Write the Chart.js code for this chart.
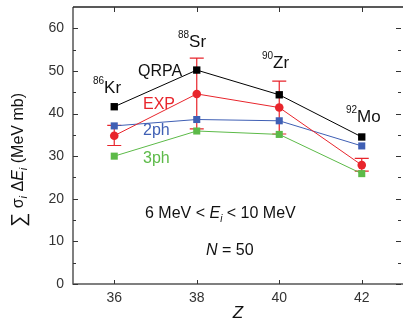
<!DOCTYPE html>
<html>
<head>
<meta charset="utf-8">
<script src="https://cdn.jsdelivr.net/npm/chart.js@4/dist/chart.umd.min.js"></script>
<style>
html,body{margin:0;padding:0;background:#fff;}
#wrap{width:403px;height:320px;}
</style>
</head>
<body>
<div id="wrap"><canvas id="c" width="403" height="320"></canvas></div>
<script>
// ---- data ----
const zValues = [36, 38, 40, 42];
const massNumbers = ['86', '88', '90', '92'];
const elementSymbols = ['Kr', 'Sr', 'Zr', 'Mo'];
const qrpaValues = [41.6, 50.2, 44.4, 34.5];
const expValues = [34.8, 44.6, 41.4, 27.9];
const expErrLow = [32.5, 36.4, 35.2, 26.5];
const expErrHigh = [37.2, 53.0, 47.6, 29.5];
const twoPhValues = [37.1, 38.6, 38.3, 32.4];
const threePhValues = [30.0, 35.9, 35.1, 25.9];
const xTickLabels = ['36', '38', '40', '42'];
const yTickLabels = ['0', '10', '20', '30', '40', '50', '60'];
const seriesNames = ['QRPA', 'EXP', '2ph', '3ph'];

const FONT = '"Liberation Sans", Arial, Helvetica, sans-serif';
const colBlack = '#000000', colRed = '#e8252c', colBlue = '#3f5fb4', colGreen = '#5cba48';

function pts(vals) { return zValues.map((z, i) => ({ x: z, y: vals[i] })); }

const framePlugin = {
  id: 'frame',
  beforeDatasetsDraw(chart) {
    const ctx = chart.ctx, xs = chart.scales.x, ys = chart.scales.y;
    ctx.save();
    ctx.strokeStyle = colRed; ctx.lineWidth = 1.2;
    zValues.forEach((z, i) => {
      const px = xs.getPixelForValue(z);
      const lo = ys.getPixelForValue(expErrLow[i]), hi = ys.getPixelForValue(expErrHigh[i]);
      ctx.beginPath();
      ctx.moveTo(px, lo); ctx.lineTo(px, hi);
      ctx.moveTo(px - 7, lo); ctx.lineTo(px + 7, lo);
      ctx.moveTo(px - 7, hi); ctx.lineTo(px + 7, hi);
      ctx.stroke();
    });
    ctx.restore();
  },
  afterDraw(chart) {
    const ctx = chart.ctx, ca = chart.chartArea, xs = chart.scales.x, ys = chart.scales.y;
    ctx.save();
    ctx.lineWidth = 1.5;
    ctx.strokeStyle = '#555';
    ctx.beginPath();
    ctx.moveTo(ca.left, ca.top); ctx.lineTo(ca.left, ca.bottom); ctx.lineTo(ca.right, ca.bottom);
    ctx.stroke();
    ctx.strokeStyle = '#222';
    ctx.beginPath();
    ctx.moveTo(ca.left, ca.top); ctx.lineTo(ca.right, ca.top);
    ctx.stroke();
    ctx.lineWidth = 1;
    ctx.strokeStyle = '#333';
    ctx.beginPath();
    yTickLabels.forEach(t => {
      const py = Math.round(ys.getPixelForValue(+t)) + 0.5;
      ctx.moveTo(ca.left, py); ctx.lineTo(ca.left + 5, py);
      ctx.moveTo(ca.right - 2, py); ctx.lineTo(ca.right - 7, py);
    });
    for (let v = 5; v < ys.max; v += 10) {
      const py = Math.round(ys.getPixelForValue(v)) + 0.5;
      ctx.moveTo(ca.left, py); ctx.lineTo(ca.left + 3, py);
      ctx.moveTo(ca.right - 2, py); ctx.lineTo(ca.right - 5, py);
    }
    xTickLabels.forEach(t => {
      const px = Math.round(xs.getPixelForValue(+t)) + 0.5;
      ctx.moveTo(px, ca.bottom); ctx.lineTo(px, ca.bottom - 4);
      ctx.moveTo(px, ca.top); ctx.lineTo(px, ca.top + 5);
    });
    ctx.stroke();

    ctx.textBaseline = 'alphabetic';
    const nucPos = [[93, 93], [178, 47], [262, 68], [346, 122]];
    massNumbers.forEach((m, i) => {
      const [x0, y0] = nucPos[i];
      ctx.fillStyle = '#111';
      ctx.font = '10px ' + FONT;
      ctx.textAlign = 'left';
      ctx.fillText(m, x0, y0 - 9);
      const w = ctx.measureText(m).width;
      ctx.font = '17px ' + FONT;
      ctx.fillText(elementSymbols[i], x0 + w, y0);
    });
    const serCols = ['#111', colRed, colBlue, colGreen];
    const serPos = [[138, 76], [143, 109], [143, 135], [143, 163]];
    ctx.font = '16px ' + FONT;
    seriesNames.forEach((s, i) => {
      ctx.fillStyle = serCols[i];
      ctx.fillText(s, serPos[i][0], serPos[i][1]);
    });
    ctx.fillStyle = '#111';
    const parts = [
      ['6 MeV < ', '16px ' + FONT, 0],
      ['E', 'italic 16px ' + FONT, 0],
      ['i', 'italic 10px ' + FONT, 4],
      [' < 10 MeV', '16px ' + FONT, 0]
    ];
    let x = 145;
    parts.forEach(p => {
      ctx.font = p[1];
      ctx.fillText(p[0], x, 218 + p[2]);
      x += ctx.measureText(p[0]).width;
    });
    ctx.font = 'italic 16px ' + FONT;
    ctx.fillText('N', 206, 255);
    let nw = ctx.measureText('N').width;
    ctx.font = '16px ' + FONT;
    ctx.fillText(' = 50', 206 + nw, 255);
    ctx.font = 'italic 17px ' + FONT;
    ctx.textAlign = 'center';
    ctx.fillText('Z', 238, 318);
    ctx.translate(23, 160);
    ctx.rotate(-Math.PI / 2);
    ctx.textAlign = 'left';
    const yParts = [
      ['\u2211', '20px ' + FONT, 2],
      [' \u03c3', '16px ' + FONT, 0],
      ['i', 'italic 11px ' + FONT, 4],
      [' \u0394', '16px ' + FONT, 0],
      ['E', 'italic 16px ' + FONT, 0],
      ['i', 'italic 11px ' + FONT, 4],
      [' (MeV mb)', '16px ' + FONT, 0]
    ];
    let tw = 0;
    yParts.forEach(p => { ctx.font = p[1]; tw += ctx.measureText(p[0]).width; });
    let yx = -tw / 2;
    yParts.forEach(p => {
      ctx.font = p[1];
      ctx.fillText(p[0], yx, p[2]);
      yx += ctx.measureText(p[0]).width;
    });
    ctx.restore();
  }
};

new Chart(document.getElementById('c'), {
  type: 'scatter',
  data: {
    datasets: [
      { label: '3ph', data: pts(threePhValues), showLine: true, borderColor: colGreen, backgroundColor: colGreen,
        borderWidth: 1, pointStyle: 'rect', pointRadius: 5, pointBorderWidth: 0, order: 4 },
      { label: '2ph', data: pts(twoPhValues), showLine: true, borderColor: colBlue, backgroundColor: colBlue,
        borderWidth: 1, pointStyle: 'rect', pointRadius: 5, pointBorderWidth: 0, order: 3 },
      { label: 'QRPA', data: pts(qrpaValues), showLine: true, borderColor: colBlack, backgroundColor: colBlack,
        borderWidth: 1, pointStyle: 'rect', pointRadius: 5.2, pointBorderWidth: 0, order: 2 },
      { label: 'EXP', data: pts(expValues), showLine: true, borderColor: colRed, backgroundColor: colRed,
        borderWidth: 1, pointStyle: 'circle', pointRadius: 4.3, pointBorderWidth: 0, order: 1 }
    ]
  },
  options: {
    responsive: false,
    animation: false,
    devicePixelRatio: 1,
    layout: { autoPadding: false, padding: { top: 7, right: 0, left: 0, bottom: 0 } },
    plugins: { legend: { display: false }, tooltip: { enabled: false } },
    scales: {
      x: {
        type: 'linear', min: 35, max: 43,
        afterBuildTicks: s => { s.ticks = xTickLabels.map(v => ({ value: +v })); },
        afterFit: s => { s.height = 36; s.paddingLeft = 0; s.paddingRight = 0; },
        grid: { display: false, drawTicks: false },
        border: { display: false },
        ticks: { font: { family: FONT, size: 14 }, color: '#333', padding: 6, maxRotation: 0,
          callback: v => String(v) }
      },
      y: {
        type: 'linear', min: 0, max: 65,
        afterBuildTicks: s => { s.ticks = yTickLabels.map(v => ({ value: +v })); },
        afterFit: s => { s.width = 73; s.paddingTop = 0; s.paddingBottom = 0; },
        grid: { display: false, drawTicks: false },
        border: { display: false },
        ticks: { font: { family: FONT, size: 14 }, color: '#333', padding: 9,
          callback: v => String(v) }
      }
    }
  },
  plugins: [framePlugin]
});
</script>
</body>
</html>
